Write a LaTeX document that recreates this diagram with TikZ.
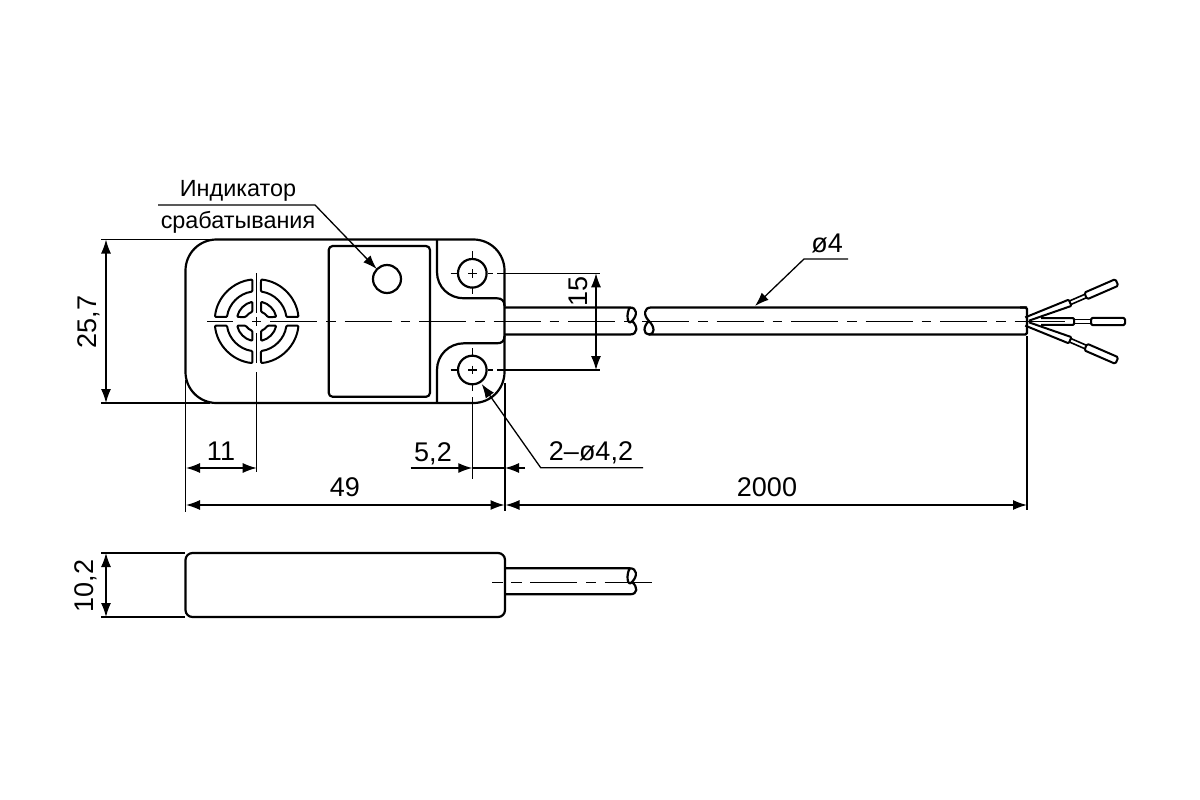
\documentclass[tikz,border=0pt]{standalone}
\usepackage{fontspec}
\setmainfont{Liberation Sans}
\usetikzlibrary{arrows.meta}

\tikzset{
  part/.style={line width=2.2pt, line join=round},
  thinline/.style={line width=1.3pt},
  axisline/.style={line width=1.3pt, dash pattern=on 47pt off 9pt on 9.5pt off 9pt},
  dimline/.style={line width=1.3pt, <->},
  leader/.style={line width=1.3pt, ->},
  dimlabel/.style={font=\fontsize{27}{30}\selectfont, inner sep=0pt},
  notelabel/.style={font=\fontsize{23.4}{26}\selectfont, inner sep=0pt}
}

\begin{document}
\begin{tikzpicture}[x=1pt, y=-1pt, >={Latex[length=14pt,width=10pt]}]
	\useasboundingbox (0,0) rectangle (1200,800);

	%body, front view
	\draw[part, rounded corners=31pt] (185.5,239.5) rectangle (504.5,403);
	\draw[part, rounded corners=4pt] (328.7,246) rectangle (430,396.8);
	\draw[part] (387,279) circle (14);
	\draw[part] (437,239.5) -- (437,272) .. controls (437,287) and (449,298.3) .. (464,298.3)
		-- (497,298.3) .. controls (502,298.3) and (504.5,301) .. (504.5,306);
	\draw[part] (437,403) -- (437,370) .. controls (437,355) and (449,343.3) .. (464,343.3)
		-- (497,343.3) .. controls (502,343.3) and (504.5,341) .. (504.5,336);

	%sensor window
	\foreach \sx/\sy in {1/1, -1/1, 1/-1, -1/-1} {
		\begin{scope}[shift={(256.7,321.3)}, y=1pt, xscale=\sx, yscale=\sy]
			\draw[part, line width=2pt, rounded corners=1pt] (4.3,41.8) arc[start angle=84.1, end angle=5.9, radius=42]
				-- (29.7,4.3) arc[start angle=8.2, end angle=81.8, radius=30] -- cycle;
			\draw[part, line width=2pt, rounded corners=1pt] (4.3,19.5) arc[start angle=77.5, end angle=12.5, radius=20]
				-- (11,4.3) .. controls (9,7) and (7,8.5) .. (4.3,9.5) -- cycle;
		\end{scope}
	}

	%mounting holes
	\foreach \hy/\hname in {273.3/holeA, 370/holeB} {
		\node[circle, draw, line width=2.2pt, minimum size=28.6pt, inner sep=0pt] (\hname) at (472.3,\hy) {};
		\draw[thinline] (468,\hy) -- (476.6,\hy) (472.3,\hy-4.3) -- (472.3,\hy+4.3);
		\draw[thinline] (450.7,\hy) -- (457,\hy) (488,\hy) -- (493,\hy);
		\draw[thinline] (472.3,\hy-22) -- (472.3,\hy-15);
	}
	\draw[thinline] (472.3,273.3+15) -- (472.3,273.3+21);
	\draw[thinline] (472.3,385) -- (472.3,391) (472.3,397) -- (472.3,479);

	%cable
	\draw[part] (505,307.5) -- (630,307.5) .. controls (637,307.5) and (638,315) .. (632,321)
		.. controls (627,327) and (626,312) .. (630,307.5);
	\draw[part] (632,321) .. controls (638,326) and (638,334.5) .. (630,334.5) -- (505,334.5);
	\draw[part] (1027,307.5) -- (651,307.5) .. controls (644,307.5) and (643,315) .. (649,321)
		.. controls (655,327) and (655,334.5) .. (649,334.5) .. controls (643,334.5) and (643,326) .. (649,321);
	\draw[part, rounded corners=1.5pt] (649,334.5) -- (1027,334.5) -- (1027,307.5) -- (1020,307.5);

	%wires
	\foreach \ang/\sgn in {23.5/1, 0/0, -23.5/-1} {
		\begin{scope}[shift={(1027,321.5)}, rotate=\ang]
			\ifnum\sgn=0
				\draw[part, line width=2pt, rounded corners=1pt] (14,-3.4) -- (47,-3.4) -- (47,3.4) -- (14,3.4);
				\draw[thinline] (1,0) -- (38,0);
			\else
				\draw[part, line width=2pt, rounded corners=1pt] (0,{-4.5*\sgn}) -- (47,{-3.4*\sgn}) -- (47,{3.4*\sgn}) -- (2,0);
			\fi
			\draw[part, line width=1.6pt] (47,-1.9) -- (64,-1.9) (47,1.9) -- (64,1.9);
			\draw[part, line width=2pt, rounded corners=1.5pt] (64,-3.6) rectangle (98,3.6);
		\end{scope}
	}

	%axis lines
	\draw[thinline] (207,321.3) -- (233,321.3) (252,321.3) -- (261,321.3);
	\draw[axisline] (270,321.3) -- (637,321.3);
	\draw[axisline] (642,321.3) -- (1027,321.3);
	\draw[thinline] (256.7,273) -- (256.7,313) (256.7,317) -- (256.7,326)
		(256.7,333) -- (256.7,363) (256.7,372) -- (256.7,472);

	%dimensions
	\draw[thinline] (101,239.5) -- (232,239.5) (101,403) -- (210,403);
	\draw[dimline] (106,239.5) -- (106,403);
	\node[dimlabel, rotate=90] (lblHeight) at (89,322) {25,7};

	\draw[thinline] (185.5,380) -- (185.5,512) (505,383) -- (505,511) (1027,336) -- (1027,510);
	\draw[dimline] (186,468) -- (256.7,468);
	\node[dimlabel] (lblEleven) at (221,451.5) {11};
	\draw[dimline] (186,505) -- (504.5,505);
	\node[dimlabel] (lblWidth) at (345,487.5) {49};
	\draw[dimline] (505.5,505) -- (1027,505);
	\node[dimlabel] (lblCable) at (767,487.5) {2000};

	\coordinate (offA) at (410.7,468);
	\coordinate (offB) at (525,468);
	\draw[thinline, ->] (offA) -- (472.3,468);
	\draw[thinline, ->] (offB) -- (505,468);
	\draw[thinline] (472.3,468) -- (505,468);
	\node[dimlabel] (lblOffset) at (433,453.5) {5,2};

	\draw[thinline] (497,273.3) -- (600,273.3) (497,370) -- (600,370);
	\draw[dimline] (596,273.3) -- (596,370);
	\node[dimlabel, rotate=90] (lblPitch) at (578.5,291) {15};

	%leaders
	\coordinate (holeTip) at (481.7,384);
	\draw[leader] (643,467.7) -- (540.7,467.7) -- (holeTip);
	\node[dimlabel] (lblHoles) at (591,452.5) {2--ø4,2};

	\coordinate (cableTip) at (755,306);
	\draw[leader] (848,259) -- (804,259) -- (cableTip);
	\node[dimlabel] (lblDia) at (827,243.5) {ø4};

	\coordinate (ledTip) at (376.7,269);
	\draw[leader] (158,205) -- (315,205) -- (ledTip);
	\node[notelabel] (lblNoteA) at (238,190.5) {Индикатор};
	\node[notelabel] (lblNoteB) at (238,222) {срабатывания};

	%side view
	\draw[part, rounded corners=7pt] (185.5,553) rectangle (505,617);
	\draw[part] (505,568.3) -- (630,568.3) .. controls (637,568.3) and (638,576) .. (632,582)
		.. controls (627,588) and (626,573) .. (630,568.3);
	\draw[part] (632,582) .. controls (638,587) and (638,594.3) .. (630,594.3) -- (505,594.3);
	\draw[thinline] (492,582.3) -- (503,582.3) (511,582.3) -- (522,582.3);
	\draw[axisline] (530,582.3) -- (652,582.3);
	\draw[thinline] (101,553) -- (185,553) (101,617) -- (185,617);
	\draw[dimline] (106,553) -- (106,617);
	\node[dimlabel, rotate=90] (lblDepth) at (86,586) {10,2};
\end{tikzpicture}
\end{document}
